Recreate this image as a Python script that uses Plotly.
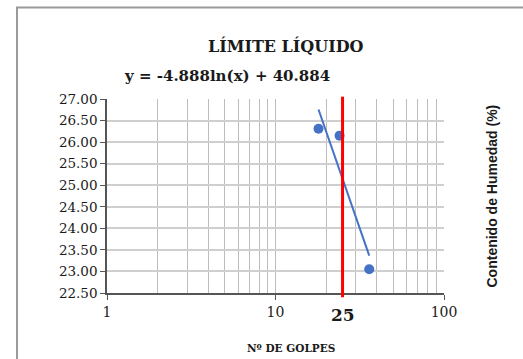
import numpy as np
import plotly.graph_objects as go

# Ensayo de límite líquido: número de golpes vs contenido de humedad
golpes = [18, 24, 36]
humedad = [26.31, 26.15, 23.05]

# Línea de tendencia logarítmica y = a*ln(x) + b
coef_a = -4.888
coef_b = 40.884
ecuacion = "y = -4.888ln(x) + 40.884"

golpes_ref = 25
y_ticks = [22.5, 23.0, 23.5, 24.0, 24.5, 25.0, 25.5, 26.0, 26.5, 27.0]
x_ticks = [1, 10, 100]

blue = "#4472C4"
serif = "DejaVu Serif"

x_trend = np.linspace(min(golpes), max(golpes), 60)
y_trend = coef_a * np.log(x_trend) + coef_b

fig = go.Figure()
fig.add_trace(go.Scatter(
    x=x_trend, y=y_trend, mode="lines",
    line=dict(color=blue, width=2), showlegend=False, hoverinfo="skip",
))
fig.add_trace(go.Scatter(
    x=golpes, y=humedad, mode="markers",
    marker=dict(color=blue, size=10), showlegend=False,
))

# Línea vertical en 25 golpes
fig.add_shape(type="line", xref="x", yref="paper",
              x0=golpes_ref, x1=golpes_ref, y0=-0.022, y1=1.012,
              line=dict(color="#FF0000", width=3), layer="above")

# Marco exterior del gráfico
fig.add_shape(type="rect", xref="paper", yref="paper",
              x0=-0.267, x1=1.6, y0=-0.5, y1=1.472,
              line=dict(color="#9a9a9a", width=2), layer="below")

fig.update_layout(
    width=523, height=359,
    margin=dict(l=107, r=79, t=99, b=66),
    paper_bgcolor="white", plot_bgcolor="white",
    font=dict(family=serif, color="#1a1a1a", size=13),
    xaxis=dict(
        type="log", range=[0, 2],
        tickvals=x_ticks, ticktext=[str(v) for v in x_ticks],
        ticks="outside", ticklen=5, tickcolor="#555555",
        showline=True, linecolor="#555555", linewidth=1.5,
        showgrid=True, gridcolor="#bdbdbd", gridwidth=1,
        minor=dict(dtick="D1", showgrid=True, gridcolor="#bdbdbd", gridwidth=1, ticks=""),
        tickfont=dict(family=serif, size=14, color="#1a1a1a"),
        zeroline=False,
    ),
    yaxis=dict(
        range=[22.5, 27.0],
        tickvals=y_ticks, ticktext=[f"{v:.2f}" for v in y_ticks],
        ticks="outside", ticklen=5, tickcolor="#555555",
        showline=True, linecolor="#555555", linewidth=1.5,
        showgrid=True, gridcolor="#cfcfcf", gridwidth=1.5,
        tickfont=dict(family=serif, size=13.5, color="#1a1a1a"),
        zeroline=False,
    ),
    annotations=[
        dict(text="<b>LÍMITE LÍQUIDO</b>", xref="paper", yref="paper",
             x=0.53, y=1.0 + 53 / 194.6, xanchor="center", yanchor="middle",
             showarrow=False, font=dict(family=serif, size=16, color="#1a1a1a")),
        dict(text="<b>" + ecuacion + "</b>", xref="paper", yref="paper",
             x=0.356, y=1.0 + 23 / 194.6, xanchor="center", yanchor="middle",
             showarrow=False, font=dict(family=serif, size=15, color="#1a1a1a")),
        dict(text="<b>Nº DE GOLPES</b>", xref="paper", yref="paper",
             x=0.545, y=-55 / 194.6, xanchor="center", yanchor="middle",
             showarrow=False, font=dict(family=serif, size=10.5, color="#1a1a1a")),
        dict(text="<b>" + str(golpes_ref) + "</b>", xref="x", yref="paper",
             x=np.log10(golpes_ref), y=-22 / 194.6, xanchor="center", yanchor="middle",
             showarrow=False, font=dict(family=serif, size=17, color="#1a1a1a")),
        dict(text="<b>Contenido de Humedad (%)</b>", xref="paper", yref="paper",
             x=1.0 + 47.5 / 337, y=0.5, xanchor="center", yanchor="middle",
             textangle=-90, showarrow=False,
             font=dict(family="Liberation Sans", size=14, color="#1a1a1a")),
    ],
)

fig.write_html("out.html")
